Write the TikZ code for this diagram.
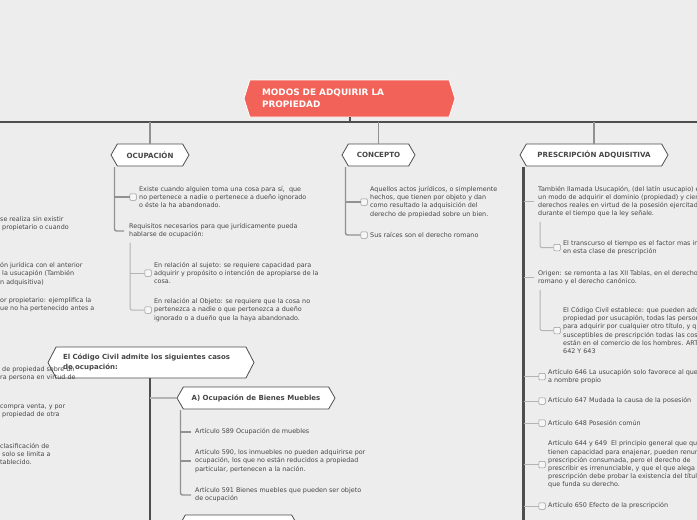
\documentclass[tikz,border=0pt]{standalone}
\usepackage{fontspec}
\setmainfont{DejaVu Sans}
\usepackage{tikz}
\usetikzlibrary{calc,positioning,shapes.symbols}
\definecolor{bgcol}{RGB}{237,237,237}
\definecolor{rootred}{RGB}{242,98,88}
\definecolor{txtgray}{RGB}{70,70,70}
\definecolor{darkline}{RGB}{78,78,78}
\definecolor{midline}{RGB}{145,145,145}
\definecolor{lightline}{RGB}{180,180,180}
\definecolor{boxgray}{RGB}{150,150,150}

\begin{document}
\begin{tikzpicture}[
  x=1pt, y=-1pt,
  hexa/.style={shape=signal, signal to=east and west, signal pointer angle=120, draw=darkline, line width=0.8pt, fill=white, minimum height=22pt, inner sep=0pt, font=\fontsize{7.1}{8}\selectfont\bfseries, text=txtgray},
  rootnode/.style={hexa, signal pointer angle=145, fill=rootred, draw=white, minimum height=37pt, text=white, font=\fontsize{8.9}{12}\selectfont\bfseries, align=left},
  leaf/.style={anchor=west, inner sep=0pt, align=left, font=\fontsize{6.4}{8.2}\selectfont, text=txtgray},
  chkbox/.style={draw=boxgray, fill=white!50!bgcol, rounded corners=1pt, minimum size=6.5pt, inner sep=0pt, line width=0.5pt},
  trunk/.style={draw=darkline, line width=2.2pt},
  branch/.style={draw=midline, line width=1.4pt, rounded corners=2pt},
  twig/.style={draw=lightline, line width=1pt, rounded corners=2pt},
]
\useasboundingbox (0,0) rectangle (697,520);
\fill[bgcol] (0,0) rectangle (697,520);
\coordinate (barL) at (0,122);
\coordinate (barR) at (697,122);
\coordinate (bottom) at (0,520);

% Main bar
\draw[darkline, line width=1.2pt] (barL) -- (barR);

% Nodes
\node[rootnode, minimum width=211pt, text width=175pt] (root) at (349.5,98.5) {MODOS DE ADQUIRIR LA\\PROPIEDAD};
\node[hexa, minimum width=78pt] (ocup) at (150,155) {OCUPACIÓN};
\node[hexa, minimum width=73pt] (conc) at (378.5,155) {CONCEPTO};
\node[hexa, minimum width=148pt] (presc) at (594,155) {PRESCRIPCIÓN ADQUISITIVA};

\draw[darkline, line width=2pt] (root.south) -- (root.south |- barL);
\draw[midline, line width=1.5pt] (ocup.north) -- (ocup.north |- barL);
\draw[midline, line width=1.5pt] (conc.north) -- (conc.north |- barL);
\draw[midline, line width=1.5pt] (presc.north) -- (presc.north |- barL);

% Ocupacion
\node[chkbox] (chk1) at (133,197) {};
\node[leaf] (exist) at (139,197) {Existe cuando alguien toma una cosa para sí,\ \ que\\no pertenece a nadie o pertenece a dueño ignorado\\o éste la ha abandonado.};
\node[leaf] (req) at (129,231) {Requisitos necesarios para que jurídicamente pueda\\hablarse de ocupación:};
\node[chkbox] (chk2) at (148,273) {};
\node[leaf] (sujeto) at (154,273) {En relación al sujeto: se requiere capacidad para\\adquirir y propósito o intención de apropiarse de la\\cosa.};
\node[chkbox] (chk3) at (148,310) {};
\node[leaf] (objeto) at (154,310) {En relación al Objeto: se requiere que la cosa no\\pertenezca a nadie o que pertenezca a dueño\\ignorado o a dueño que la haya abandonado.};

\draw[branch] ($(ocup.west)+(4,12)$) |- ([xshift=-5]req.west);
\draw[branch] (chk1.west -| ocup.west) ++(4,0) -- (chk1.west);
\draw[twig] ([shift={(1,4)}]req.south west) |- (chk3.west);
\draw[twig] (chk2.west -| req.west) ++(1,0) -- (chk2.west);

% Concepto
\node[chkbox] (chk4) at (364,202) {};
\node[leaf] (actos) at (370,202) {Aquellos actos jurídicos, o simplemente\\hechos, que tienen por objeto y dan\\como resultado la adquisición del\\derecho de propiedad sobre un bien.};
\node[chkbox] (chk5) at (364,235) {};
\node[leaf] (raices) at (370,235) {Sus raíces son el derecho romano};

\draw[branch] ($(conc.west)+(4,12)$) |- (chk5.west);
\draw[branch] (chk4.west -| conc.west) ++(4,0) -- (chk4.west);

% Codigo Civil
\node[hexa, minimum width=206pt, minimum height=31pt, text width=176pt, align=left, signal pointer angle=125, font=\fontsize{7}{10}\selectfont\bfseries] (cc) at (151,362.5) {El Código Civil admite los siguientes casos\\de ocupación:};
\node[hexa, minimum width=158pt, font=\fontsize{7}{8}\selectfont\bfseries] (aoc) at (256,398) {A) Ocupación de Bienes Muebles};
\node[hexa, minimum width=119pt] (boc) at (238.5,526) {};
\node[leaf] (a589) at (195,432) {Artículo 589 Ocupación de muebles};
\node[leaf] (a590) at (195,461) {Artículo 590, los inmuebles no pueden adquirirse por\\ocupación, los que no están reducidos a propiedad\\particular, pertenecen a la nación.};
\node[leaf] (a591) at (195,495) {Artículo 591 Bienes muebles que pueden ser objeto\\de ocupación};

\draw[trunk] ([xshift=-1]cc.south) -- ([xshift=-1]cc.south |- bottom);
\draw[lightline, line width=2pt] ([xshift=-1]cc.south |- aoc.west) -- (aoc.west);
\draw[branch] ($(aoc.west)+(4,12)$) |- ([xshift=-4]a591.west);
\draw[branch] (a589.west -| aoc.west) ++(4,0) -- ([xshift=-4]a589.west);
\draw[branch] (a590.west -| aoc.west) ++(4,0) -- ([xshift=-4]a590.west);

% Prescripcion
\node[leaf] (usu) at (538,201.5) {También llamada Usucapión, (del latín usucapio) es\\un modo de adquirir el dominio (propiedad) y ciertos\\derechos reales en virtud de la posesión ejercitada\\durante el tiempo que la ley señale.};
\node[chkbox] (chk6) at (557,247.5) {};
\node[leaf] (trans) at (563,247.5) {El transcurso el tiempo es el factor mas importante\\en esta clase de prescripción};
\node[leaf] (orig) at (538,277.5) {Origen: se remonta a las XII Tablas, en el derecho\\romano y el derecho canónico.};
\node[chkbox] (chk7) at (557,330.5) {};
\node[leaf] (ccest) at (563,330.5) {El Código Civil establece: que pueden adquirir la\\propiedad por usucapión, todas las personas capaces\\para adquirir por cualquier otro título, y que son\\susceptibles de prescripción todas las cosas que\\están en el comercio de los hombres. ARTÍCULOS\\642 Y 643};
\node[chkbox] (chk8) at (542,376.5) {};
\node[leaf] (a646) at (548,376.5) {Artículo 646 La usucapión solo favorece al que posee\\a nombre propio};
\node[chkbox] (chk9) at (542,401) {};
\node[leaf] (a647) at (548,401) {Artículo 647 Mudada la causa de la posesión};
\node[chkbox] (chk10) at (542,423) {};
\node[leaf] (a648) at (548,423) {Artículo 648 Posesión común};
\node[chkbox] (chk11) at (542,464.5) {};
\node[leaf] (a644) at (548,464.5) {Artículo 644 y 649\ \ El principio general que quienes\\tienen capacidad para enajenar, pueden renunciar la\\prescripción consumada, pero el derecho de\\prescribir es irrenunciable, y que el que alega la\\prescripción debe probar la existencia del título\\que funda su derecho.};
\node[chkbox] (chk12) at (542,506) {};
\node[leaf] (a650) at (548,506) {Artículo 650 Efecto de la prescripción};

\coordinate (prescstem) at ($(presc.west)+(4,12)$);
\draw[trunk] (prescstem) -- (prescstem |- bottom);
\foreach \k in {usu, orig} {
  \draw[lightline, line width=1pt] (\k.west -| prescstem) -- ([xshift=-4]\k.west);
}
\foreach \k in {chk8, chk9, chk10, chk11, chk12} {
  \draw[lightline, line width=1pt] (\k.west -| prescstem) -- (\k.west);
}
\draw[twig] ([shift={(2,5)}]usu.south west) |- (chk6.west);
\draw[twig] ([shift={(2,5)}]orig.south west) |- (chk7.west);

% Cut-off texts at the left edge
\node[leaf] (lt1) at (0,224) {se realiza sin existir\\\ propietario o cuando};
\node[leaf] (lt2) at (0,274) {ón jurídica con el anterior\\\ la usucapión (También\\n adquisitiva)};
\node[leaf] (lt3) at (0,305) {or propietario: ejemplifica la\\ue no ha pertenecido antes a};
\node[leaf] (lt4) at (0,374) {\ de propiedad sobre un\\ra persona en virtud de};
\node[leaf] (lt5) at (0,411) {compra venta, y por\\\ propiedad de otra};
\node[leaf] (lt6) at (0,454) {clasificación de\\\ solo se limita a\\tablecido.};
\end{tikzpicture}
\end{document}
